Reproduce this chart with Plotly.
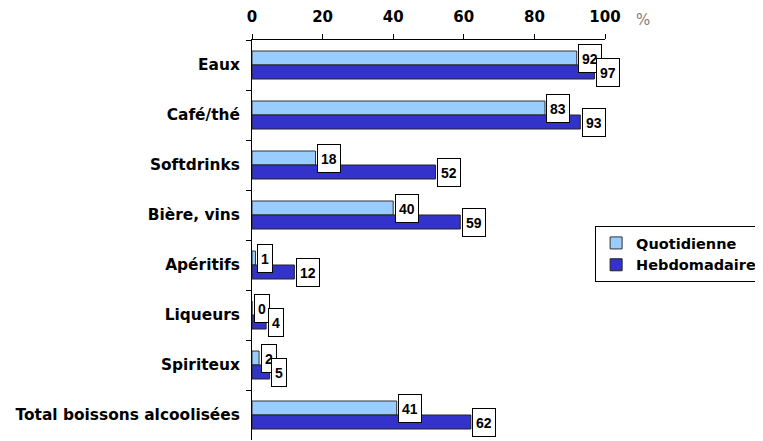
import plotly.graph_objects as go

categories = ["Eaux", "Café/thé", "Softdrinks", "Bière, vins", "Apéritifs",
              "Liqueurs", "Spiriteux", "Total boissons alcoolisées"]
quotidienne = [92, 83, 18, 40, 1, 0, 2, 41]
hebdomadaire = [97, 93, 52, 59, 12, 4, 5, 62]
x_ticks = [0, 20, 40, 60, 80, 100]

FONT = "DejaVu Sans"
LABEL_FONT = "Liberation Sans"
LIGHT = "#99CCFF"
DARK = "#3333CC"

fig = go.Figure()
fig.add_trace(go.Bar(y=categories, x=quotidienne, orientation="h", name="Quotidienne",
                     marker=dict(color=LIGHT, line=dict(color="#333333", width=1))))
fig.add_trace(go.Bar(y=categories, x=hebdomadaire, orientation="h", name="Hebdomadaire",
                     marker=dict(color=DARK, line=dict(color="#222222", width=1))))

annotations = []
for series, shift in ((quotidienne, 7), (hebdomadaire, -7)):
    for cat, v in zip(categories, series):
        annotations.append(dict(
            x=v, y=cat, xref="x", yref="y", text=f"<b>{v}</b>", showarrow=False,
            xanchor="left", yanchor="middle", xshift=1.5, yshift=shift,
            height=21, borderpad=3, borderwidth=1,
            bordercolor="#000000", bgcolor="#FFFFFF",
            font=dict(family=LABEL_FONT, size=14, color="#000000")))
annotations.append(dict(x=1.107, y=1.05, xref="paper", yref="paper", text="%",
                        showarrow=False, xanchor="center", yanchor="middle",
                        font=dict(family=FONT, size=15, color="#8C7B6E")))

# the page body has an 8px margin, so the figure is sized/margined to compensate
fig.update_layout(
    width=755, height=433,
    margin=dict(l=244, r=156, t=32, b=1, pad=0),
    paper_bgcolor="white", plot_bgcolor="white",
    barmode="group", bargap=0.44, bargroupgap=0,
    font=dict(family=FONT, size=15, color="#000000"),
    legend=dict(x=0.972, y=0.535, xanchor="left", yanchor="top",
                bordercolor="#000000", borderwidth=1, bgcolor="white",
                font=dict(family=FONT, size=14.5, color="#000000", weight="bold"),
                tracegroupgap=0),
    annotations=annotations,
    showlegend=True,
)
fig.update_xaxes(side="top", range=[0, 100], tickvals=x_ticks, ticks="outside",
                 ticklen=5, tickcolor="#000000", showline=True, linecolor="#000000",
                 linewidth=1, showgrid=False, zeroline=False, ticklabelstandoff=6,
                 tickfont=dict(family=FONT, size=15, weight="bold"))
fig.update_yaxes(autorange="reversed", ticks="outside", tickson="boundaries",
                 ticklen=5, tickcolor="#000000", showline=True, linecolor="#000000",
                 linewidth=1, showgrid=False, ticklabelstandoff=8,
                 tickfont=dict(family=FONT, size=15.4, weight="bold"))

fig.write_html("out.html")
